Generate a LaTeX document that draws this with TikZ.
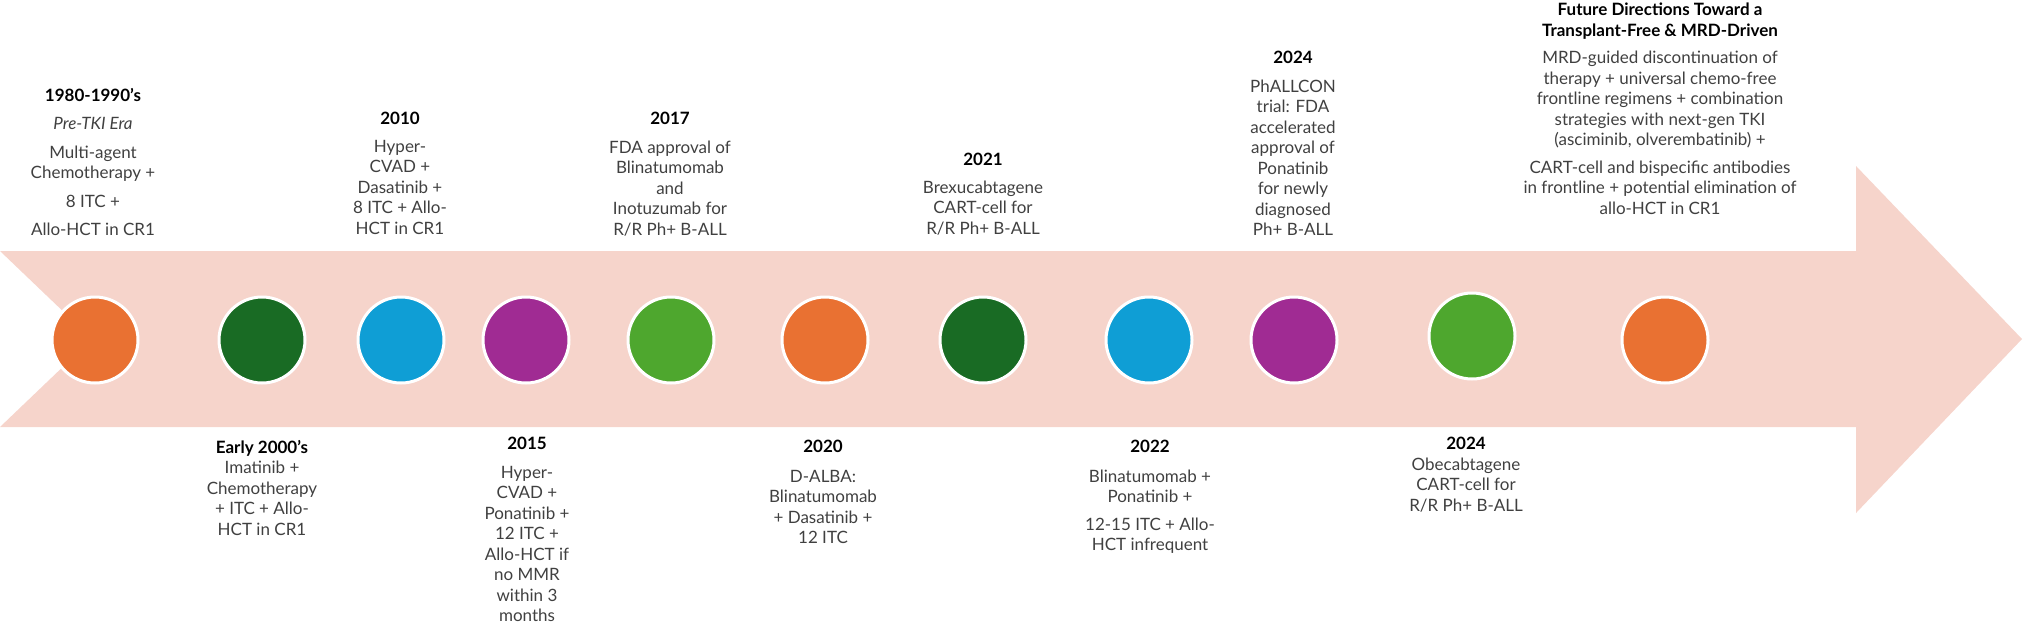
\documentclass[tikz,border=0pt]{standalone}
\usepackage{fontspec}
\setmainfont{Lato}
\usepackage{tikz}

\definecolor{bandpink}{HTML}{F6D4CB}
\definecolor{dotorange}{HTML}{E97132}
\definecolor{dotdkgreen}{HTML}{196B24}
\definecolor{dotblue}{HTML}{0F9ED5}
\definecolor{dotpurple}{HTML}{A02B93}
\definecolor{dotgreen}{HTML}{4EA72E}
\definecolor{textgray}{HTML}{404040}

\newcommand{\yr}[1]{{\color{black}\bfseries #1}}

\tikzset{
  dot/.style={circle, draw=white, line width=3pt, minimum size=86pt, inner sep=0pt},
  era/.style={align=center, anchor=north, inner sep=0pt, text=textgray,
    font=\fontsize{17}{20.5}\selectfont},
}

\begin{document}
\begin{tikzpicture}[x=1pt,y=-1pt]
		\useasboundingbox (0,0) rectangle (2031,627);
		
		% timeline arrow
		\fill[bandpink] (0,251) -- (1856,251) -- (1856,166) -- (2022,339) -- (1856,513) -- (1856,427) -- (0,427) -- (92,339) -- cycle;
		
		% milestones
		\node[dot, fill=dotorange] (d1980) at (95,340) {};
		\node[dot, fill=dotdkgreen] (d2000) at (262,340) {};
		\node[dot, fill=dotblue] (d2010) at (401,340) {};
		\node[dot, fill=dotpurple] (d2015) at (526,340) {};
		\node[dot, fill=dotgreen] (d2017) at (671,340) {};
		\node[dot, fill=dotorange] (d2020) at (825,340) {};
		\node[dot, fill=dotdkgreen] (d2021) at (983,340) {};
		\node[dot, fill=dotblue] (d2022) at (1149,340) {};
		\node[dot, fill=dotpurple] (d2024a) at (1294,340) {};
		\node[dot, fill=dotgreen] (d2024b) at (1472,336) {};
		\node[dot, fill=dotorange] (dfuture) at (1665,340) {};
		
		% above the arrow
		\node[era] (t1980) at (93,88) {\yr{1980-1990’s}\\[8pt] \textit{Pre-TKI Era}\\[8pt] Multi-agent\\ Chemotherapy +\\[8pt] 8 ITC +\\[8pt] Allo-HCT in CR1};
		\node[era] (t2010) at (400,112) {\yr{2010}\\[7pt] Hyper-\\ CVAD +\\ Dasatinib +\\ 8 ITC + Allo-\\ HCT in CR1};
		\node[era] (t2017) at (670,112) {\yr{2017}\\[8pt] FDA approval of\\ Blinatumomab\\ and\\ Inotuzumab for\\ R/R Ph+ B-ALL};
		\node[era] (t2021) at (983,153) {\yr{2021}\\[7pt] Brexucabtagene\\ CART-cell for\\ R/R Ph+ B-ALL};
		\node[era] (t2024a) at (1293,51) {\yr{2024}\\[8pt] PhALLCON\\ trial: FDA\\ accelerated\\ approval of\\ Ponatinib\\ for newly\\ diagnosed\\ Ph+ B-ALL};
		\node[era] (tfuture) at (1660,3) {\yr{Future Directions Toward a}\\ \yr{Transplant-Free \& MRD-Driven}\\[7pt] MRD-guided discontinuation of\\ therapy + universal chemo-free\\ frontline regimens + combination\\ strategies with next-gen TKI\\ (asciminib, olverembatinib) +\\[7pt] CART-cell and bispecific antibodies\\ in frontline + potential elimination of\\ allo-HCT in CR1};
		
		% below the arrow
		\node[era] (t2000) at (262,440) {\yr{Early 2000’s}\\ Imatinib +\\ Chemotherapy\\ + ITC + Allo-\\ HCT in CR1};
		\node[era] (t2015) at (527,437) {\yr{2015}\\[8pt] Hyper-\\ CVAD +\\ Ponatinib +\\ 12 ITC +\\ Allo-HCT if\\ no MMR\\ within 3\\ months};
		\node[era] (t2020) at (823,440) {\yr{2020}\\[9pt] D-ALBA:\\ Blinatumomab\\ + Dasatinib +\\ 12 ITC};
		\node[era] (t2022) at (1150,440) {\yr{2022}\\[9pt] Blinatumomab +\\ Ponatinib +\\[7pt] 12-15 ITC + Allo-\\ HCT infrequent};
		\node[era] (t2024b) at (1466,437) {\yr{2024}\\ Obecabtagene\\ CART-cell for\\ R/R Ph+ B-ALL};
	\end{tikzpicture}
\end{document}
